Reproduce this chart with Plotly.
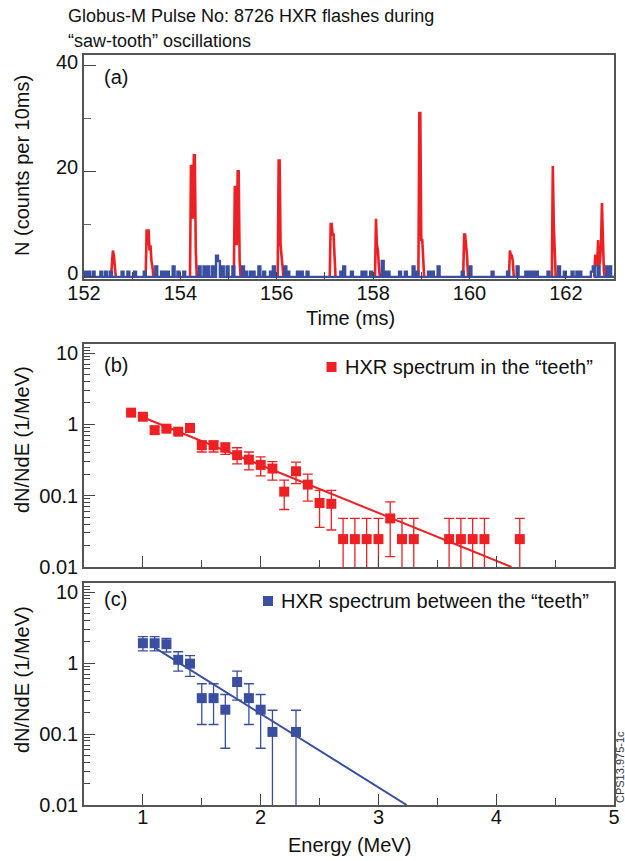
import plotly.graph_objects as go

# ---------------- data ----------------
# Panel (a): HXR counts vs time
bin_ms = 0.02
t_start, t_end = 152.0, 163.0
flash_t0 = [152.56, 153.28, 154.20, 155.11, 156.02, 157.10, 158.04, 158.94, 159.87, 160.82, 161.71, 162.59]
flash_counts = [
    [0, 2, 5, 4, 2, 0],
    [0, 9, 6, 9, 5, 6, 3, 2, 0],
    [0, 21, 21, 11, 23, 23, 5, 0],
    [0, 17, 17, 6, 20, 20, 3, 0],
    [0, 22, 22, 6, 4, 2, 0],
    [0, 10, 10, 8, 8, 3, 0],
    [0, 11, 6, 5, 2, 0],
    [0, 31, 31, 7, 7, 2, 0],
    [0, 8, 8, 6, 4, 0],
    [0, 5, 4, 4, 3, 0],
    [0, 21, 10, 3, 0],
    [0, 4, 4, 2, 7, 2, 3, 6, 14, 9, 1, 0],
]
blue_t = [152.02, 152.08, 152.18, 152.34, 152.45, 152.54, 152.78, 152.90, 153.04, 153.24,
          153.48, 153.59, 153.66, 153.71, 153.83, 153.94, 154.06, 154.38, 154.48, 154.55,
          154.65, 154.74, 154.79, 154.86, 154.96, 155.08, 155.29, 155.34, 155.44, 155.51,
          155.62, 155.72, 155.86, 155.92, 156.16, 156.23, 156.42, 156.50, 156.62, 157.31,
          157.37, 157.54, 157.75, 157.81, 157.95, 158.19, 158.25, 158.30, 158.54, 158.67,
          158.82, 158.91, 159.14, 159.22, 159.33, 159.84, 160.01, 160.46, 160.77, 160.98,
          161.15, 161.22, 161.30, 161.39, 161.63, 161.84, 161.97, 162.11, 162.21, 162.28,
          162.52, 162.57, 162.66, 162.85, 162.90]
blue_n = [1, 1, 1, 1, 1, 1, 1, 1, 1, 1,
          2, 1, 1, 1, 2, 1, 1, 2, 2, 2,
          2, 4, 3, 2, 2, 2, 2, 1, 1, 1,
          2, 1, 1, 2, 2, 1, 1, 1, 1, 1,
          2, 1, 1, 1, 1, 3, 1, 1, 1, 1,
          2, 1, 1, 1, 2, 1, 2, 1, 1, 2,
          1, 1, 1, 1, 1, 2, 1, 1, 1, 1,
          1, 2, 2, 2, 2]

# Panel (b): spectrum in the teeth
b_E = [0.9, 1.0, 1.1, 1.2, 1.3, 1.4, 1.5, 1.6, 1.7, 1.8, 1.9, 2.0, 2.1, 2.2, 2.3, 2.4, 2.5, 2.6,
       2.7, 2.8, 2.9, 3.0, 3.1, 3.2, 3.3, 3.6, 3.7, 3.8, 3.9, 4.2]
b_val = [1.46, 1.28, 0.83, 0.87, 0.79, 0.89, 0.51, 0.51, 0.47, 0.37, 0.32, 0.27, 0.24, 0.114,
         0.22, 0.143, 0.079, 0.077, 0.0246, 0.0246, 0.0246, 0.0246, 0.048, 0.0246, 0.0246,
         0.0246, 0.0246, 0.0246, 0.0246, 0.0246]
b_hi = [1.5, 1.32, 0.92, 0.92, 0.84, 0.94, 0.58, 0.58, 0.55, 0.47, 0.41, 0.35, 0.30, 0.165,
        0.295, 0.20, 0.119, 0.119, 0.048, 0.048, 0.048, 0.048, 0.082, 0.048, 0.048,
        0.048, 0.048, 0.048, 0.048, 0.048]
b_lo = [1.42, 1.24, 0.74, 0.82, 0.74, 0.84, 0.41, 0.41, 0.38, 0.28, 0.23, 0.19, 0.165, 0.064,
        0.148, 0.084, 0.036, 0.033, 1e-4, 1e-4, 1e-4, 1e-4, 0.014, 1e-4, 1e-4,
        1e-4, 1e-4, 1e-4, 1e-4, 1e-4]
b_fit_E = [1.0, 4.13]
b_fit_y = [1.26, 0.01]

# Panel (c): spectrum between the teeth
c_E = [1.0, 1.1, 1.2, 1.3, 1.4, 1.5, 1.6, 1.7, 1.8, 1.9, 2.0, 2.1, 2.3]
c_val = [1.9, 1.9, 1.84, 1.11, 0.98, 0.32, 0.32, 0.22, 0.54, 0.32, 0.22, 0.107, 0.107]
c_hi = [2.35, 2.35, 2.23, 1.44, 1.27, 0.51, 0.51, 0.36, 0.77, 0.51, 0.36, 0.216, 0.216]
c_lo = [1.48, 1.48, 1.43, 0.77, 0.65, 0.136, 0.136, 0.063, 0.30, 0.136, 0.063, 1e-4, 1e-4]
c_fit_E = [1.1, 3.24]
c_fit_y = [1.65, 0.01]

title_lines = ["Globus-M Pulse No: 8726 HXR flashes during", "\u201csaw-tooth\u201d oscillations"]
legend_b = "HXR spectrum in the \u201cteeth\u201d"
legend_c = "HXR spectrum between the \u201cteeth\u201d"

# ---------------- style ----------------
RED = "#ED2024"
BLUE = "#3A4FA0"
FONT = "Liberation Sans, Arial, sans-serif"
W, H = 625, 861


def px_x(p):
    return p / W


def px_y(p):
    return 1 - p / H


# ---------------- build series ----------------
nbins = int(round((t_end - t_start) / bin_ms)) + 1
grid_t = [t_start + i * bin_ms for i in range(nbins)]
blue_y = [0] * nbins
for t, n in zip(blue_t, blue_n):
    i = int(round((t - t_start) / bin_ms))
    for k in (i, i + 1):
        if 0 <= k < nbins:
            blue_y[k] = n

red_x, red_y = [], []
for t0, cnts in zip(flash_t0, flash_counts):
    for j, c in enumerate(cnts):
        red_x.append(t0 + j * bin_ms)
        red_y.append(c)
    red_x.append(None)
    red_y.append(None)

fig = go.Figure()
fig.add_trace(go.Scatter(x=red_x, y=red_y, mode="lines", line=dict(color=RED, width=2.6),
                         xaxis="x", yaxis="y", showlegend=False))
fig.add_trace(go.Scatter(x=grid_t, y=blue_y, mode="lines", line=dict(color=BLUE, width=2.4, shape="hv"),
                         xaxis="x", yaxis="y", showlegend=False))

# panel b
fig.add_trace(go.Scatter(x=b_fit_E, y=b_fit_y, mode="lines", line=dict(color=RED, width=2),
                         xaxis="x2", yaxis="y2", showlegend=False))
fig.add_trace(go.Scatter(
    x=b_E, y=b_val, mode="markers",
    marker=dict(symbol="square", size=10, color=RED),
    error_y=dict(type="data", symmetric=False,
                 array=[h - v for h, v in zip(b_hi, b_val)],
                 arrayminus=[v - l for v, l in zip(b_val, b_lo)],
                 color=RED, thickness=1.3, width=5),
    xaxis="x2", yaxis="y2", showlegend=False))

# panel c
fig.add_trace(go.Scatter(x=c_fit_E, y=c_fit_y, mode="lines", line=dict(color=BLUE, width=2),
                         xaxis="x3", yaxis="y3", showlegend=False))
fig.add_trace(go.Scatter(
    x=c_E, y=c_val, mode="markers",
    marker=dict(symbol="square", size=10, color=BLUE),
    error_y=dict(type="data", symmetric=False,
                 array=[h - v for h, v in zip(c_hi, c_val)],
                 arrayminus=[v - l for v, l in zip(c_val, c_lo)],
                 color=BLUE, thickness=1.3, width=5),
    xaxis="x3", yaxis="y3", showlegend=False))

xdom = [px_x(84), px_x(614)]
axis_common = dict(showline=True, linecolor="#555", linewidth=1.5, mirror=True,
                   showgrid=False, zeroline=False, ticks="inside", tickcolor="#444",
                   tickwidth=1.3, tickfont=dict(family=FONT, size=20, color="#111"))

log_minor = [m * 10 ** e for e in (-2, -1, 0) for m in range(2, 10)] + [11, 12, 13]

fig.update_layout(
    width=W, height=H, margin=dict(l=0, r=0, t=0, b=0),
    paper_bgcolor="white", plot_bgcolor="white", template="none",
    xaxis=dict(domain=xdom, anchor="y", range=[152, 163],
               tickvals=[152, 154, 156, 158, 160, 162], ticklen=7, ticklabelstandoff=-4,
               minor=dict(tickvals=[153, 155, 157, 159, 161, 163], ticks="inside", ticklen=7,
                          tickcolor="#444", tickwidth=1.3),
               **axis_common),
    yaxis=dict(domain=[px_y(278.5), px_y(55)], anchor="x", range=[-0.3, 42],
               tickvals=[0, 20, 40], ticklen=12, ticklabelshift=-4,
               minor=dict(tickvals=[10, 30], ticks="inside", ticklen=7, tickcolor="#666", tickwidth=1.3),
               **axis_common),
    xaxis2=dict(domain=xdom, anchor="y2", range=[0.5, 5], tickvals=[1, 2, 3, 4, 5],
                showticklabels=False, ticklen=11,
                minor=dict(tickvals=[1.5, 2.5, 3.5, 4.5], ticks="inside", ticklen=7,
                           tickcolor="#444", tickwidth=1.3),
                **axis_common),
    yaxis2=dict(domain=[px_y(567), px_y(344)], anchor="x2", type="log", range=[-2, 1.127],
                tickvals=[0.01, 0.1, 1, 10], ticktext=["0.01", "00.1", "1", "10"], ticklen=11,
                minor=dict(tickvals=log_minor, ticks="inside", ticklen=6, tickcolor="#444", tickwidth=1),
                **axis_common),
    xaxis3=dict(domain=xdom, anchor="y3", range=[0.5, 5], tickvals=[1, 2, 3, 4, 5], ticklen=11,
                ticklabelstandoff=-7,
                minor=dict(tickvals=[1.5, 2.5, 3.5, 4.5], ticks="inside", ticklen=7,
                           tickcolor="#444", tickwidth=1.3),
                **axis_common),
    yaxis3=dict(domain=[px_y(805), px_y(583)], anchor="x3", type="log", range=[-2, 1.127],
                tickvals=[0.01, 0.1, 1, 10], ticktext=["0.01", "00.1", "1", "10"], ticklen=11,
                minor=dict(tickvals=log_minor, ticks="inside", ticklen=6, tickcolor="#444", tickwidth=1),
                **axis_common),
)

ann = []


def add_text(text, x, y, size=20, angle=0, xanchor="center", color="#111"):
    ann.append(dict(text=text, x=px_x(x), y=px_y(y), xref="paper", yref="paper",
                    xanchor=xanchor, yanchor="middle", showarrow=False, textangle=angle,
                    font=dict(family=FONT, size=size, color=color)))


add_text(title_lines[0], 66, 16, size=18, xanchor="left")
add_text(title_lines[1], 66, 41, size=18, xanchor="left")
add_text("(a)", 116, 77)
add_text("(b)", 116, 365)
add_text("(c)", 116, 599)
add_text("N (counts per 10ms)", 22, 166, angle=-90)
add_text("Time (ms)", 350, 318)
add_text("dN/NdE (1/MeV)", 22, 440, angle=-90)
add_text("dN/NdE (1/MeV)", 22, 680, angle=-90)
add_text("Energy (MeV)", 349, 845)
add_text(legend_b, 343, 367, size=20, xanchor="left")
add_text(legend_c, 279, 601, size=20, xanchor="left")
add_text("CPS13.975-1c", 620, 767, size=11, angle=-90, color="#333")
fig.update_layout(annotations=ann)

fig.update_layout(shapes=[
    dict(type="rect", xref="paper", yref="paper", x0=px_x(326.5), x1=px_x(336.5),
         y0=px_y(372), y1=px_y(362), fillcolor=RED, line=dict(width=0)),
    dict(type="rect", xref="paper", yref="paper", x0=px_x(263), x1=px_x(273),
         y0=px_y(606), y1=px_y(596), fillcolor=BLUE, line=dict(width=0)),
])

fig.write_html("out.html")
